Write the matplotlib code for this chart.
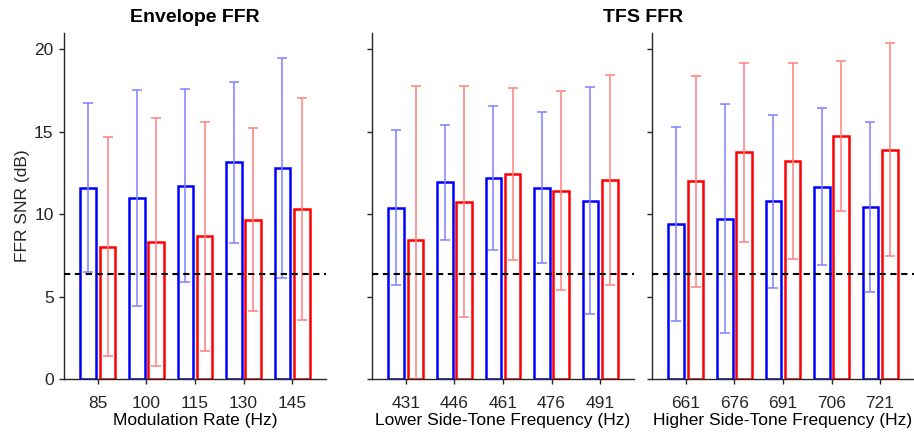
import matplotlib
matplotlib.use("Agg")
import matplotlib.pyplot as plt
import numpy as np

plt.rcParams['font.family'] = ['Liberation Sans', 'DejaVu Sans']

# ---- data ----
env_labels = ['85', '100', '115', '130', '145']
env_blue_mean = [11.62, 10.99, 11.72, 13.15, 12.81]
env_blue_sd = [5.14, 6.53, 5.86, 4.89, 6.70]
env_red_mean = [8.04, 8.32, 8.65, 9.66, 10.32]
env_red_sd = [6.62, 7.54, 6.93, 5.55, 6.71]

low_labels = ['431', '446', '461', '476', '491']
low_blue_mean = [10.40, 11.94, 12.18, 11.62, 10.83]
low_blue_sd = [4.70, 3.49, 4.36, 4.60, 6.88]
low_red_mean = [8.46, 10.77, 12.44, 11.43, 12.06]
low_red_sd = [9.30, 7.00, 5.24, 6.05, 6.37]

high_labels = ['661', '676', '691', '706', '721']
high_blue_mean = [9.39, 9.74, 10.79, 11.66, 10.44]
high_blue_sd = [5.89, 6.94, 5.26, 4.76, 5.16]
high_red_mean = [12.00, 13.76, 13.21, 14.77, 13.92]
high_red_sd = [6.41, 5.43, 5.94, 4.56, 6.48]

noise_floor = 6.38

xlabels = ['Modulation Rate (Hz)', 'Lower Side-Tone Frequency (Hz)',
           'Higher Side-Tone Frequency (Hz)']
yticks = [0, 5, 10, 15, 20]

panels = [
    (env_labels, env_blue_mean, env_blue_sd, env_red_mean, env_red_sd),
    (low_labels, low_blue_mean, low_blue_sd, low_red_mean, low_red_sd),
    (high_labels, high_blue_mean, high_blue_sd, high_red_mean, high_red_sd),
]

W, H = 914, 436
fig = plt.figure(figsize=(W / 100, H / 100), dpi=100)
axcol = '#262626'
lefts = [64, 372, 652]
width_px = 262
bottom_px = 379
top_px = 33

blue = '#0000FF'
red = '#FF0000'
lblue = '#8080FF'
lred = '#FF8080'
bw = 0.32
off = 0.2
fs = 12.5

axes = []
for i, (labs, bm, bs, rm, rs) in enumerate(panels):
    ax = fig.add_axes([lefts[i] / W, (H - bottom_px) / H, width_px / W,
                       (bottom_px - top_px) / H])
    axes.append(ax)
    x = np.arange(1, len(labs) + 1)
    ax.bar(x - off, bm, width=bw, facecolor='none', edgecolor=blue,
           linewidth=1.8, zorder=2)
    ax.bar(x + off, rm, width=bw, facecolor='none', edgecolor=red,
           linewidth=1.8, zorder=2)
    ax.errorbar(x - off, bm, yerr=bs, fmt='none', ecolor=lblue,
                elinewidth=1.1, capsize=3.6, capthick=1.1, zorder=3)
    ax.errorbar(x + off, rm, yerr=rs, fmt='none', ecolor=lred,
                elinewidth=1.1, capsize=3.6, capthick=1.1, zorder=3)
    ax.axhline(noise_floor, color='black', linewidth=1.5,
               linestyle=(0, (3, 2.2)), zorder=4)
    ax.set_xlim(0.3, 5.7)
    ax.set_ylim(0, 21)
    ax.set_xticks(x)
    ax.set_xticklabels(labs)
    ax.set_yticks(yticks)
    if i == 0:
        ax.set_yticklabels([str(v) for v in yticks])
        ax.set_ylabel('FFR SNR (dB)', fontsize=fs, color=axcol, labelpad=3)
    else:
        ax.set_yticklabels([])
    ax.set_xlabel(xlabels[i], fontsize=fs, color='black', labelpad=2)
    for s in ['top', 'right']:
        ax.spines[s].set_visible(False)
    for s in ['left', 'bottom']:
        ax.spines[s].set_color(axcol)
        ax.spines[s].set_linewidth(1.0)
    ax.tick_params(axis='both', direction='out', length=3.5, width=1.0,
                   color=axcol, labelsize=fs, labelcolor=axcol)
    ax.tick_params(axis='x', pad=8.5)
    ax.tick_params(axis='y', pad=4)

axes[0].set_title('Envelope FFR', fontsize=14, fontweight='bold', pad=8)
fig.text(((lefts[1] + lefts[2] + width_px) / 2) / W, (H - 22) / H, 'TFS FFR',
         fontsize=14, fontweight='bold', ha='center', va='baseline')

fig.savefig('out.png', dpi=100, facecolor='white')
